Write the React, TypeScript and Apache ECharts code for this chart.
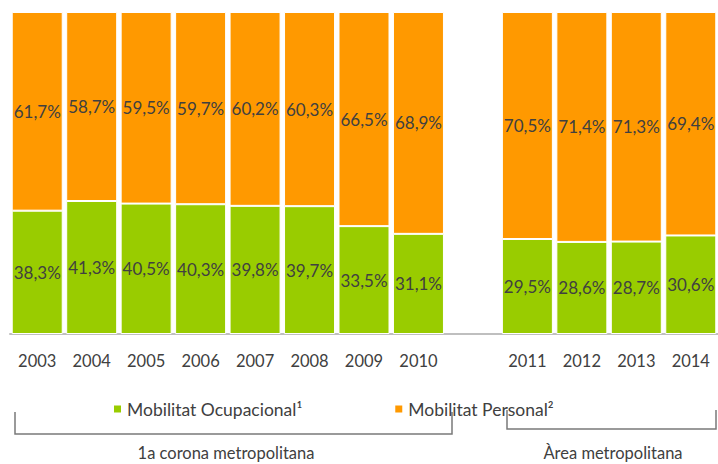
import React, { useEffect, useRef } from "react";
import * as echarts from "echarts";

const categories = ["2003", "2004", "2005", "2006", "2007", "2008", "2009", "2010", "", "2011", "2012", "2013", "2014"];
const ocupacional: (number | string)[] = [38.3, 41.3, 40.5, 40.3, 39.8, 39.7, 33.5, 31.1, "-", 29.5, 28.6, 28.7, 30.6];
const personal: (number | string)[] = [61.7, 58.7, 59.5, 59.7, 60.2, 60.3, 66.5, 68.9, "-", 70.5, 71.4, 71.3, 69.4];
const seriesNames = ["Mobilitat Ocupacional¹", "Mobilitat Personal²"];
const groupLabels = ["1a corona metropolitana", "Àrea metropolitana"];

const FONT = "Lato, 'Open Sans', sans-serif";
const TXT = "#404040";

export default function App() {
  const ref = useRef<HTMLDivElement>(null);
  useEffect(() => {
    if (!ref.current) return;
    const chart = echarts.init(ref.current, null, { renderer: "svg" });
    const fmt = (p: any) => (typeof p.value === "number" ? p.value.toFixed(1).replace(".", ",") + "%" : "");
    const bracketStyle = { stroke: "#7a7a7a", lineWidth: 1.5, fill: null as any };
    chart.setOption({
      animation: false,
      textStyle: { fontFamily: FONT },
      grid: { left: 10, top: 12, width: 710, height: 322, containLabel: false },
      legend: {
        left: 107,
        top: 395,
        itemWidth: 9,
        itemHeight: 9,
        itemGap: 91,
        icon: "rect",
        textStyle: { fontSize: 17.5, color: TXT, fontFamily: FONT },
        data: seriesNames,
      },
      xAxis: {
        type: "category",
        data: categories,
        axisLine: { lineStyle: { color: "#bfbfbf", width: 2 } },
        axisTick: { show: false },
        axisLabel: { fontSize: 16.5, color: TXT, margin: 18, fontFamily: FONT, interval: 0 },
      },
      yAxis: { type: "value", min: 0, max: 100, show: false, splitLine: { show: false } },
      series: [
        {
          name: seriesNames[0],
          type: "bar",
          stack: "t",
          data: ocupacional,
          barWidth: 51,
          itemStyle: { color: "#99cc00", borderColor: "#ffffff", borderWidth: 1 },
          label: { show: true, position: "inside", fontSize: 17, color: TXT, fontFamily: FONT, formatter: fmt },
        },
        {
          name: seriesNames[1],
          type: "bar",
          stack: "t",
          data: personal,
          barWidth: 51,
          itemStyle: { color: "#ff9900", borderColor: "#ffffff", borderWidth: 1 },
          label: { show: true, position: "inside", fontSize: 17, color: TXT, fontFamily: FONT, formatter: fmt },
        },
      ],
      graphic: [
        { type: "polyline", shape: { points: [[15, 412], [15, 434], [452, 434], [452, 412]] }, style: bracketStyle },
        { type: "polyline", shape: { points: [[507, 410], [507, 429], [716, 429], [716, 410]] }, style: bracketStyle },
        {
          type: "text",
          x: 226,
          y: 453,
          style: { text: groupLabels[0], fontSize: 16.5, fill: TXT, fontFamily: FONT, align: "center", verticalAlign: "middle" },
        },
        {
          type: "text",
          x: 613,
          y: 453,
          style: { text: groupLabels[1], fontSize: 16.5, fill: TXT, fontFamily: FONT, align: "center", verticalAlign: "middle" },
        },
      ],
    });
    return () => chart.dispose();
  }, []);
  return <div ref={ref} style={{ width: 718, height: 464, position: "absolute", left: 0, top: 0 }} />;
}
